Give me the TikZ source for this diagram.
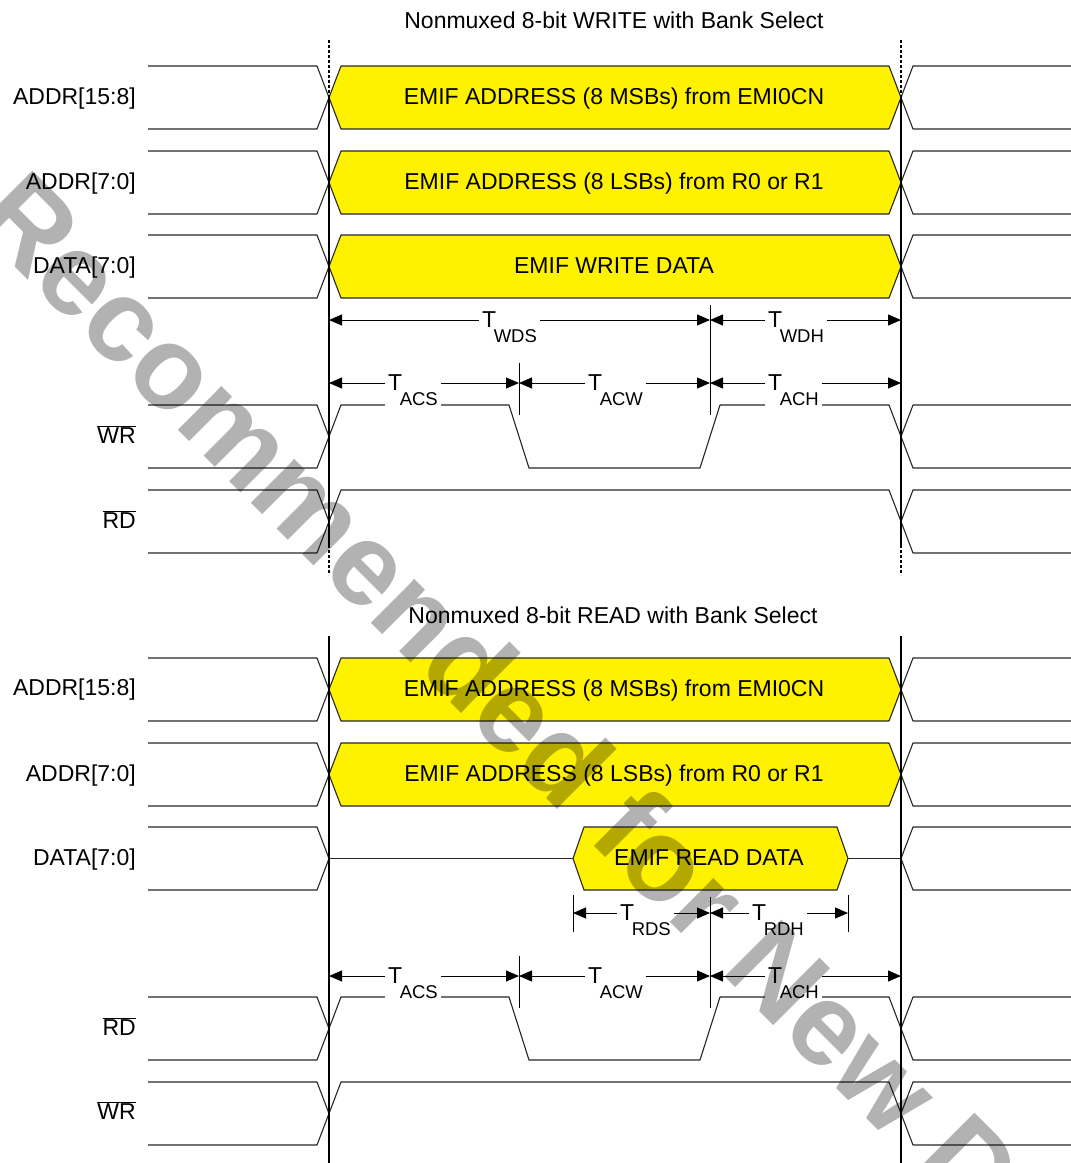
\documentclass[tikz,border=0pt]{standalone}
\usepackage{fontspec}
\setmainfont{Liberation Sans}
\usetikzlibrary{arrows.meta}

\newcommand{\sigfont}{\fontsize{23}{27}\selectfont}
\newcommand{\subfont}{\fontsize{18.5}{20}\selectfont}
\newcommand{\tsub}[1]{T\kern-2.5pt\raisebox{-15pt}{\subfont #1}}

\tikzset{
  sig/.style={draw=black!85, line width=1.1pt, line join=round},
  busfill/.style={sig, fill=yellow},
  edgeline/.style={line width=2.4pt},
  edgedash/.style={line width=2.4pt, dash pattern=on 3pt off 2pt},
  timemark/.style={line width=1pt},
  dimline/.style={line width=1pt, {Triangle[length=13pt,width=11pt]}-{Triangle[length=13pt,width=11pt]}},
  tlabel/.style={font=\sigfont, fill=white, inner xsep=3pt, inner ysep=1pt, anchor=base west},
  rowlabel/.style={font=\sigfont, anchor=base east, inner sep=0pt},
  bustext/.style={font=\sigfont, anchor=base, inner sep=0pt},
  headline/.style={font=\sigfont, anchor=base, inner sep=0pt},
  watermark/.style={font=\fontsize{117}{117}\selectfont\bfseries, text=black, text opacity=0.3,
    rotate=-45, anchor=base west, inner sep=0pt}
}

\begin{document}
\begin{tikzpicture}[x=1pt,y=-1pt]
  \useasboundingbox (0,0) rectangle (1071,1163);

  % Write cycle
  \begin{scope}
    \node[headline] (wtitle) at (614,28) {Nonmuxed 8-bit WRITE with Bank Select};
    % bus ends before and after the cycle
    \foreach \t in {66,151,235,405,490} {
      \draw[sig] (148,\t) -- (317,\t) -- (329,\t+31.5) -- (317,\t+63) -- (148,\t+63);
      \draw[sig] (1071,\t) -- (913,\t) -- (901,\t+31.5) -- (913,\t+63) -- (1071,\t+63);
    }
    % address and data
    \foreach \t in {66,151,235}
      \draw[busfill] (329,\t+31.5) -- (341,\t) -- (889,\t) -- (901,\t+31.5) -- (889,\t+63) -- (341,\t+63) -- cycle;
    % strobes
    \draw[sig] (329,436.5) -- (341,405) -- (509,405) -- (529,468) -- (700,468) -- (720,405) -- (889,405) -- (901,436.5);
    \draw[sig] (329,521.5) -- (341,490) -- (889,490) -- (901,521.5);
    % cycle edges
    \foreach \x in {329,901} {
      \draw[edgedash] (\x,40) -- (\x,97);
      \draw[edgeline] (\x,97) -- (\x,545);
      \draw[edgedash] (\x,545) -- (\x,575);
    }
    \draw[timemark] (519,363) -- (519,415);
    \draw[timemark] (710,305) -- (710,415);
    % timing
    \coordinate (wdsA) at (329,320);
    \coordinate (wdsB) at (710,320);
    \coordinate (wdhB) at (901,320);
    \coordinate (wacsA) at (329,383);
    \coordinate (wacsB) at (519,383);
    \coordinate (wacwB) at (710,383);
    \coordinate (wachB) at (901,383);
    \draw[dimline] (wdsA) -- (wdsB);
    \draw[dimline] (wdsB) -- (wdhB);
    \draw[dimline] (wacsA) -- (wacsB);
    \draw[dimline] (wacsB) -- (wacwB);
    \draw[dimline] (wacwB) -- (wachB);
    \node[tlabel] (wwds) at (479,327) {\tsub{WDS}};
    \node[tlabel] (wwdh) at (765,327) {\tsub{WDH}};
    \node[tlabel] (wacs) at (385,390) {\tsub{ACS}};
    \node[tlabel] (wacw) at (585,390) {\tsub{ACW}};
    \node[tlabel] (wach) at (765,390) {\tsub{ACH}};
    % labels
    \node[rowlabel] (waddrhi) at (136,104) {ADDR[15:8]};
    \node[rowlabel] (waddrlo) at (136,189) {ADDR[7:0]};
    \node[rowlabel] (wdata) at (136,273) {DATA[7:0]};
    \node[rowlabel] (wwr) at (136,443) {$\overline{\mbox{WR}}$};
    \node[rowlabel] (wrd) at (136,528) {$\overline{\mbox{RD}}$};
    \node[bustext] (wmsb) at (614,104.5) {EMIF ADDRESS (8 MSBs) from EMI0CN};
    \node[bustext] (wlsb) at (614,189.5) {EMIF ADDRESS (8 LSBs) from R0 or R1};
    \node[bustext] (wwdata) at (614,273.5) {EMIF WRITE DATA};
  \end{scope}

  % Read cycle
  \begin{scope}[shift={(0,592)}]
    \node[headline] (rtitle) at (613,31) {Nonmuxed 8-bit READ with Bank Select};
    % bus ends before and after the cycle
    \foreach \t in {66,151,235,405,490} {
      \draw[sig] (148,\t) -- (317,\t) -- (329,\t+31.5) -- (317,\t+63) -- (148,\t+63);
      \draw[sig] (1071,\t) -- (913,\t) -- (901,\t+31.5) -- (913,\t+63) -- (1071,\t+63);
    }
    % address
    \foreach \t in {66,151}
      \draw[busfill] (329,\t+31.5) -- (341,\t) -- (889,\t) -- (901,\t+31.5) -- (889,\t+63) -- (341,\t+63) -- cycle;
    % data
    \draw[sig] (329,266.5) -- (573,266.5);
    \draw[busfill] (573,266.5) -- (584,235) -- (837,235) -- (848,266.5) -- (837,298) -- (584,298) -- cycle;
    \draw[sig] (848,266.5) -- (901,266.5);
    % strobes
    \draw[sig] (329,436.5) -- (341,405) -- (509,405) -- (529,468) -- (700,468) -- (720,405) -- (889,405) -- (901,436.5);
    \draw[sig] (329,521.5) -- (341,490) -- (889,490) -- (901,521.5);
    % cycle edges
    \foreach \x in {329,901}
      \draw[edgeline] (\x,44) -- (\x,571);
    \draw[timemark] (573,303) -- (573,340);
    \draw[timemark] (848,303) -- (848,340);
    \draw[timemark] (519,364) -- (519,416);
    \draw[timemark] (710,305) -- (710,416);
    % timing
    \coordinate (rdsA) at (573,321);
    \coordinate (rdsB) at (710,321);
    \coordinate (rdhB) at (848,321);
    \coordinate (racsA) at (329,384);
    \coordinate (racsB) at (519,384);
    \coordinate (racwB) at (710,384);
    \coordinate (rachB) at (901,384);
    \draw[dimline] (rdsA) -- (rdsB);
    \draw[dimline] (rdsB) -- (rdhB);
    \draw[dimline] (racsA) -- (racsB);
    \draw[dimline] (racsB) -- (racwB);
    \draw[dimline] (racwB) -- (rachB);
    \node[tlabel] (rrds) at (617,328) {\tsub{RDS}};
    \node[tlabel] (rrdh) at (749,328) {\tsub{RDH}};
    \node[tlabel] (racs) at (385,391) {\tsub{ACS}};
    \node[tlabel] (racw) at (585,391) {\tsub{ACW}};
    \node[tlabel] (rach) at (765,391) {\tsub{ACH}};
    % labels
    \node[rowlabel] (raddrhi) at (136,103) {ADDR[15:8]};
    \node[rowlabel] (raddrlo) at (136,189) {ADDR[7:0]};
    \node[rowlabel] (rdata) at (136,273) {DATA[7:0]};
    \node[rowlabel] (rrd) at (136,443) {$\overline{\mbox{RD}}$};
    \node[rowlabel] (rwr) at (136,527) {$\overline{\mbox{WR}}$};
    \node[bustext] (rmsb) at (614,104.5) {EMIF ADDRESS (8 MSBs) from EMI0CN};
    \node[bustext] (rlsb) at (614,189.5) {EMIF ADDRESS (8 LSBs) from R0 or R1};
    \node[bustext] (rrdata) at (709,273.5) {EMIF READ DATA};
  \end{scope}

  % watermark
  \begin{scope}
    \clip (0,0) rectangle (1071,1163);
    \node[watermark] (wmark) at (-30,222) {Recommended for New Designs};
  \end{scope}
\end{tikzpicture}
\end{document}
